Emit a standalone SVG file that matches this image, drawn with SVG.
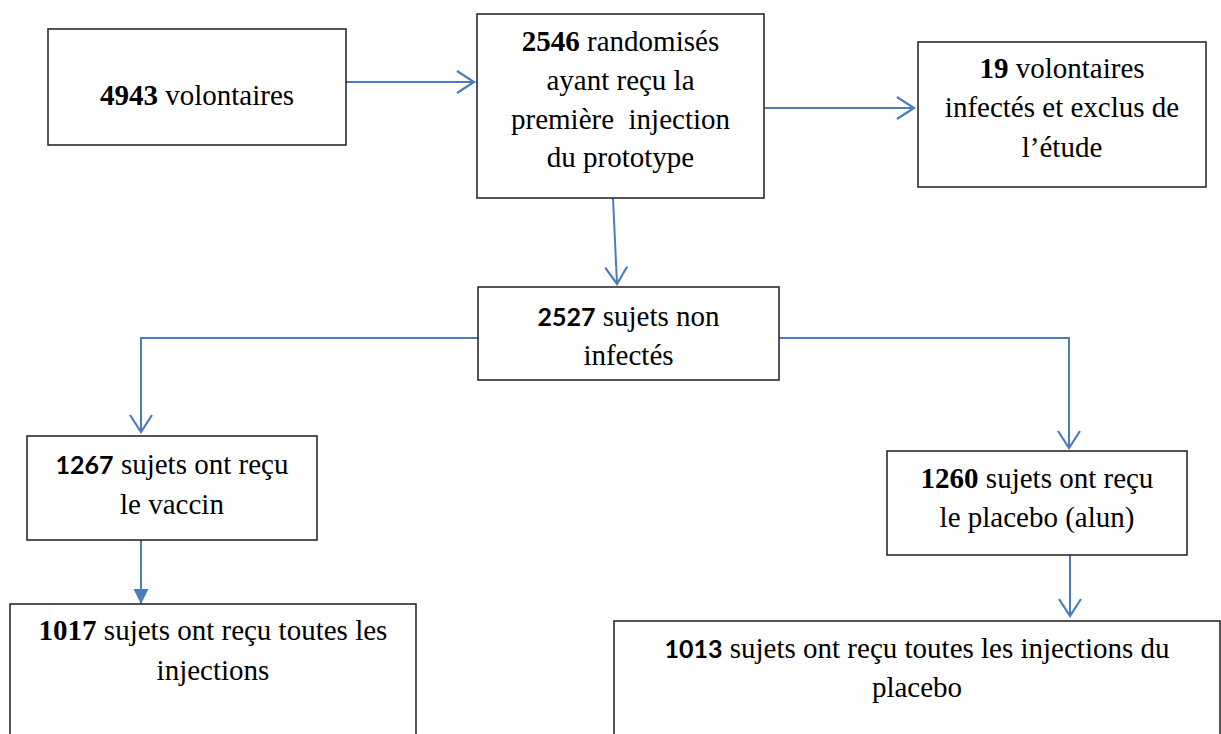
<svg xmlns="http://www.w3.org/2000/svg" width="1221" height="734" viewBox="0 0 1221 734">
<style>
.box{fill:#fff;stroke:#1e1e1e;stroke-width:1.5}
.c{fill:none;stroke:#4a7ebb;stroke-width:2}
</style>
<defs>
<marker id="open" markerUnits="userSpaceOnUse" markerWidth="24" markerHeight="26" viewBox="0 0 24 26" refX="19" refY="13" orient="auto">
<path d="M2,2 L19,13 L2,24" fill="none" stroke="#4a7ebb" stroke-width="2.2"/>
</marker>
<marker id="solid" markerUnits="userSpaceOnUse" markerWidth="18" markerHeight="18" viewBox="0 0 18 18" refX="15" refY="9" orient="auto">
<path d="M0,1.5 L15,9 L0,16.5 Z" fill="#4a7ebb"/>
</marker>
</defs>
<g id="connectors">
<line class="c" x1="346" y1="82" x2="474" y2="82" marker-end="url(#open)"/>
<line class="c" x1="764" y1="108" x2="914" y2="108" marker-end="url(#open)"/>
<line class="c" x1="613" y1="198" x2="617" y2="284" marker-end="url(#open)"/>
<polyline class="c" points="478,338 141,338 141,432" marker-end="url(#open)"/>
<polyline class="c" points="779,338 1069,338 1069,448" marker-end="url(#open)"/>
<line class="c" x1="1070" y1="555" x2="1070" y2="616" marker-end="url(#open)"/>
<line class="c" x1="141" y1="540" x2="141" y2="604" stroke-width="2.5" marker-end="url(#solid)"/>
</g>
<g id="n4943">
<rect class="box" x="48" y="29" width="298" height="116"/>
<text x="197" y="105" font-family="Liberation Serif" font-size="29" text-anchor="middle"><tspan font-weight="bold">4943</tspan> volontaires</text>
</g>
<g id="n2546">
<rect class="box" x="477" y="14" width="287" height="184"/>
<text x="620.5" y="51" font-family="Liberation Serif" font-size="29" text-anchor="middle"><tspan font-weight="bold">2546</tspan> randomisés</text>
<text x="620.5" y="90" font-family="Liberation Serif" font-size="29" text-anchor="middle">ayant reçu la</text>
<text x="620.5" y="129" font-family="Liberation Serif" font-size="29" text-anchor="middle" xml:space="preserve">première  injection</text>
<text x="620.5" y="167" font-family="Liberation Serif" font-size="29" text-anchor="middle">du prototype</text>
</g>
<g id="n19">
<rect class="box" x="918" y="42" width="288" height="145"/>
<text x="1062" y="78" font-family="Liberation Serif" font-size="29" text-anchor="middle"><tspan font-weight="bold">19</tspan> volontaires</text>
<text x="1062" y="117" font-family="Liberation Serif" font-size="29" text-anchor="middle">infectés et exclus de</text>
<text x="1062" y="157" font-family="Liberation Serif" font-size="29" text-anchor="middle">l’étude</text>
</g>
<g id="n2527">
<rect class="box" x="478" y="287" width="301" height="93"/>
<text x="628.5" y="326" font-family="Liberation Serif" font-size="29" text-anchor="middle"><tspan font-family="Lato" font-weight="bold" font-size="25">2527</tspan> sujets non</text>
<text x="628.5" y="365" font-family="Liberation Serif" font-size="29" text-anchor="middle">infectés</text>
</g>
<g id="n1267">
<rect class="box" x="27" y="436" width="290" height="104"/>
<text x="172" y="474" font-family="Liberation Serif" font-size="29" text-anchor="middle"><tspan font-family="Lato" font-weight="bold" font-size="25">1267</tspan> sujets ont reçu</text>
<text x="172" y="514" font-family="Liberation Serif" font-size="29" text-anchor="middle">le vaccin</text>
</g>
<g id="n1260">
<rect class="box" x="887" y="451" width="300" height="104"/>
<text x="1037" y="488" font-family="Liberation Serif" font-size="29" text-anchor="middle"><tspan font-weight="bold">1260</tspan> sujets ont reçu</text>
<text x="1037" y="527" font-family="Liberation Serif" font-size="29" text-anchor="middle">le placebo (alun)</text>
</g>
<g id="n1017">
<rect class="box" x="10" y="604" width="406" height="140"/>
<text x="213" y="640" font-family="Liberation Serif" font-size="29" text-anchor="middle"><tspan font-weight="bold">1017</tspan> sujets ont reçu toutes les</text>
<text x="213" y="680" font-family="Liberation Serif" font-size="29" text-anchor="middle">injections</text>
</g>
<g id="n1013">
<rect class="box" x="614" y="621" width="606" height="123"/>
<text x="917" y="658" font-family="Liberation Serif" font-size="29" text-anchor="middle"><tspan font-family="Lato" font-weight="bold" font-size="25">1013</tspan> sujets ont reçu toutes les injections du</text>
<text x="917" y="697" font-family="Liberation Serif" font-size="29" text-anchor="middle">placebo</text>
</g>
</svg>
